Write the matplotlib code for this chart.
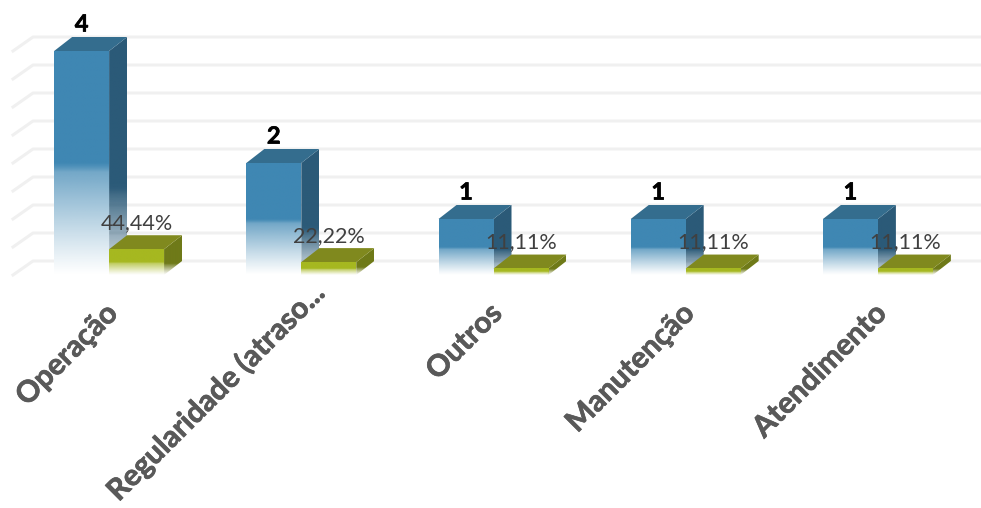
import numpy as np
import matplotlib
matplotlib.use("Agg")
import matplotlib.pyplot as plt
import matplotlib.patheffects as pe
import matplotlib.transforms as mtransforms
from matplotlib.colors import to_rgb
from matplotlib.patches import Polygon

categories = ["Operação", "Regularidade (atraso...", "Outros", "Manutenção", "Atendimento"]
counts = [4, 2, 1, 1, 1]
percents = [44.44, 22.22, 11.11, 11.11, 11.11]
grid_values = [0, 0.5, 1, 1.5, 2, 2.5, 3, 3.5, 4]

W, H = 981, 508
DEPTH_X, DEPTH_Y = 18, 14   # 3d offset in px
BAR_W = 0.286
PX_COUNT = 56               # px per count
PX_PCT = 0.58               # px per percent point

plt.rcParams['font.family'] = ['Lato', 'DejaVu Sans']

fig = plt.figure(figsize=(W / 100, H / 100), dpi=100)
ax = fig.add_axes([13 / W, (H - 275) / H, 961 / W, 275 / H])
ymax1 = 275 / PX_COUNT
ymax2 = 275 / PX_PCT
ax.set_xlim(-0.5, 4.5)
ax.set_ylim(0, ymax1)
ax2 = ax.twinx()
ax2.set_ylim(0, ymax2)
ax2.patch.set_visible(False)


def fade(color, start=0.5, knee=0.8, low=0.0, n=200):
    # solid down to start, then a ramp from knee to low at the bottom
    img = np.ones((n, 1, 4))
    img[:, :, :3] = to_rgb(color)
    t = np.linspace(1, 0, n)
    ramp = low + (knee - low) * (t / start) ** 1.1
    step = np.clip((t - start) / 0.04 + 1, 0, 1)
    img[:, 0, 3] = np.where(t > start, 1.0, ramp + (1 - ramp) * step)
    return img


def box(a, x0, width, val, front, top, side, px_unit, z, side_fade):
    dx = DEPTH_X / 961 * 5
    dy = DEPTH_Y / px_unit
    x1 = x0 + width

    # front face sits on white so the grid does not show through it
    a.fill([x0, x1, x1, x0], [0, 0, val, val], color="white", lw=0, zorder=z)
    a.imshow(fade(front), extent=[x0, x1, 0, val], aspect="auto", zorder=z + 0.2,
             interpolation="bilinear")

    poly = Polygon([(x1, 0), (x1 + dx, dy), (x1 + dx, val + dy), (x1, val)], closed=True,
                   transform=a.transData, fc="none", ec="none")
    a.add_patch(poly)
    im = a.imshow(fade(side, **side_fade), extent=[x1, x1 + dx, 0, val + dy],
                  aspect="auto", zorder=z + 0.1, interpolation="bilinear")
    im.set_clip_path(poly)

    a.add_patch(Polygon([(x0, val), (x1, val), (x1 + dx, val + dy), (x0 + dx, val + dy)],
                        closed=True, fc=top, ec="none", zorder=z + 0.1))


# floor + back wall grid
dx_g = 20 / 961 * 5
dy_g = DEPTH_Y / PX_COUNT
for v in grid_values:
    yy = v + dy_g
    ax.plot([-0.5, -0.5 + dx_g, 4.53], [v, yy, yy], color="#f0f0f0", lw=2.2, zorder=1,
            clip_on=False, solid_joinstyle="round")

x = np.arange(len(categories))
for i, (c, p) in enumerate(zip(counts, percents)):
    box(ax, x[i] - BAR_W, BAR_W, c, "#3f87b3", "#346d8e", "#2b5a78", PX_COUNT, 2,
        dict(start=0.38, knee=1.0, low=0.15))
    ax.annotate(str(c), (x[i] - BAR_W / 2, c), xytext=(0, 19.4), textcoords="offset points",
                ha="center", va="center", fontsize=17, fontweight="bold", color="black",
                zorder=9, annotation_clip=False,
                path_effects=[pe.withStroke(linewidth=0.5, foreground="black")])
    box(ax2, x[i], BAR_W, p, "#a6b820", "#80891e", "#6f7a18", PX_PCT, 4,
        dict(start=0.3, knee=1.0, low=0.0))
    ax2.annotate(f"{p:.2f}".replace(".", ",") + "%", (x[i] + BAR_W / 2, p), xytext=(0, 18.7),
                 textcoords="offset points", ha="center", va="center", fontsize=15.5,
                 color="#404040", zorder=9, annotation_clip=False)

ax.set_xlim(-0.5, 4.5)
ax.set_ylim(0, ymax1)
ax2.set_ylim(0, ymax2)
ax2.set_yticks([])
ax.set_yticks([])
for a in (ax, ax2):
    for s in a.spines.values():
        s.set_visible(False)

ax.set_xticks(x)
ax.set_xticklabels(categories, rotation=45, ha="right", rotation_mode="anchor", fontsize=21.5,
                   fontweight="bold", color="#595959",
                   path_effects=[pe.withStroke(linewidth=0.5, foreground="#595959")])
ax.tick_params(axis="x", length=0, pad=17)

# long label sits further up and right than the others
for i, t in enumerate(ax.get_xticklabels()):
    sx, sy = (8, 21) if i == 1 else (-6, 0)
    t.set_transform(t.get_transform() + mtransforms.Affine2D().translate(sx, sy))

ax.set_zorder(1)
ax2.set_zorder(2)

fig.savefig("out.png", dpi=100)
